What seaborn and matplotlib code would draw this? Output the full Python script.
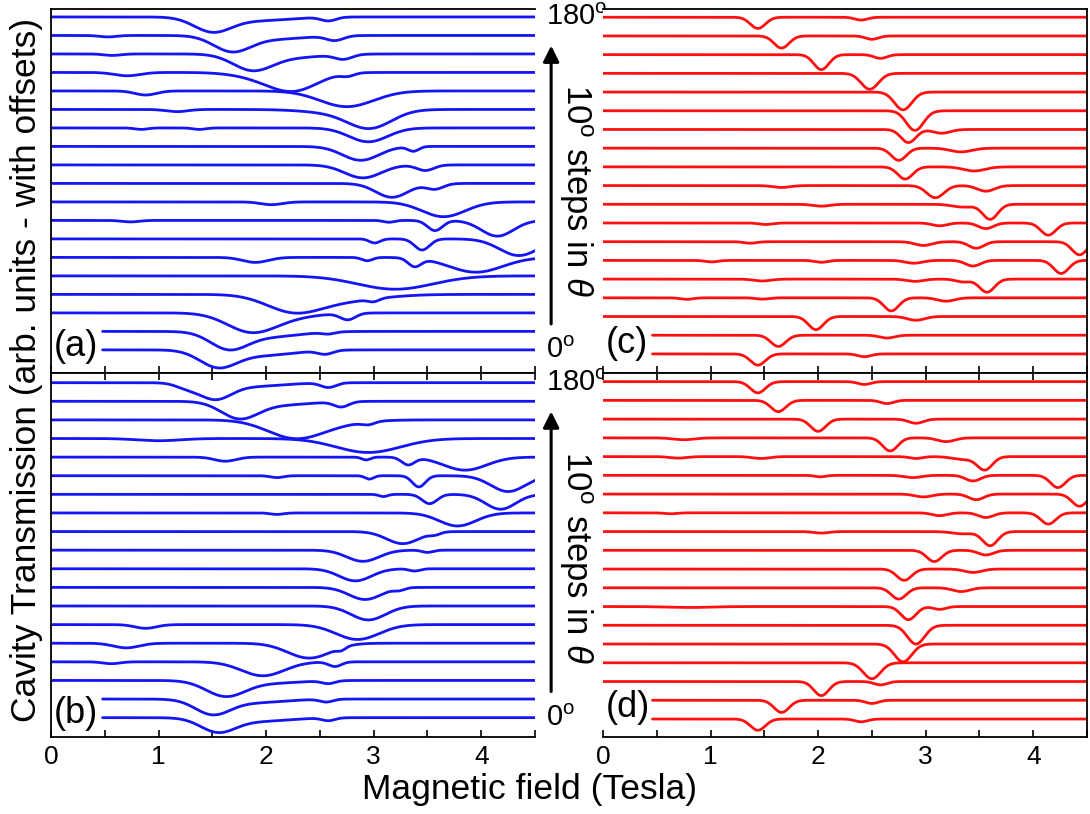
import numpy as np
import pandas as pd
import matplotlib
matplotlib.use('Agg')
import matplotlib.pyplot as plt
import seaborn as sns

# angle of each trace, 0 deg at the bottom, 180 deg at the top
angles = list(range(0, 190, 10))

# each trace: list of (field centre T, depth in trace spacings, width T)
dips_a = [
    [(1.55, -0.85, 0.17), (1.95, -0.30, 0.30), (2.55, -0.20, 0.07)],
    [(1.65, -0.85, 0.17), (2.00, -0.30, 0.30), (2.58, -0.10, 0.06)],
    [(1.85, -0.85, 0.22), (2.10, -0.30, 0.30), (2.76, -0.35, 0.07)],
    [(2.25, -0.85, 0.25), (2.70, -0.35, 0.35), (3.00, -0.15, 0.05)],
    [(3.20, -0.72, 0.35)],
    [(1.90, -0.27, 0.12), (2.94, -0.18, 0.05), (3.38, -0.45, 0.06), (3.95, -0.80, 0.25)],
    [(3.01, -0.22, 0.05), (3.45, -0.60, 0.07), (4.35, -0.90, 0.18)],
    [(0.74, -0.08, 0.08), (3.14, -0.10, 0.05), (3.57, -0.55, 0.07), (4.15, -0.85, 0.15)],
    [(2.05, -0.15, 0.10), (3.65, -0.80, 0.20)],
    [(3.17, -0.75, 0.15), (3.57, -0.30, 0.08)],
    [(2.90, -0.70, 0.17), (3.48, -0.30, 0.08)],
    [(2.88, -0.75, 0.17), (3.37, -0.25, 0.05)],
    [(0.84, -0.08, 0.06), (1.38, -0.08, 0.06), (2.95, -0.75, 0.18)],
    [(1.17, -0.12, 0.10), (2.70, -0.20, 0.30), (2.97, -0.90, 0.20)],
    [(0.88, -0.22, 0.10), (2.75, -0.85, 0.25)],
    [(0.71, -0.18, 0.12), (2.00, -0.30, 0.25), (2.27, -0.85, 0.22), (2.76, -0.15, 0.06)],
    [(0.57, -0.08, 0.08), (1.87, -0.80, 0.18), (2.20, -0.20, 0.30), (2.72, -0.25, 0.08)],
    [(0.53, -0.08, 0.08), (1.68, -0.80, 0.17), (2.05, -0.20, 0.30), (2.64, -0.25, 0.08)],
    [(1.50, -0.75, 0.17), (1.90, -0.20, 0.30), (2.58, -0.20, 0.07)],
]

dips_b = [
    [(1.55, -0.70, 0.16), (1.90, -0.20, 0.30), (2.58, -0.15, 0.06)],
    [(1.50, -0.75, 0.16), (1.85, -0.20, 0.30), (2.56, -0.15, 0.06)],
    [(1.62, -0.80, 0.18), (2.00, -0.15, 0.30), (2.58, -0.15, 0.06)],
    [(0.56, -0.10, 0.08), (1.97, -0.75, 0.20), (2.64, -0.25, 0.06)],
    [(0.70, -0.25, 0.12), (2.40, -0.80, 0.20), (2.70, -0.15, 0.04)],
    [(0.88, -0.20, 0.10), (2.85, -0.80, 0.20)],
    [(2.95, -0.75, 0.16)],
    [(2.92, -0.65, 0.15), (3.24, -0.12, 0.05)],
    [(2.83, -0.65, 0.15), (3.38, -0.12, 0.05)],
    [(2.90, -0.60, 0.15), (3.50, -0.12, 0.05)],
    [(3.27, -0.65, 0.15), (3.57, -0.12, 0.05)],
    [(2.10, -0.08, 0.06), (3.78, -0.70, 0.17)],
    [(3.09, -0.12, 0.04), (3.52, -0.50, 0.07), (4.18, -0.80, 0.14)],
    [(2.10, -0.10, 0.06), (2.96, -0.18, 0.04), (3.42, -0.60, 0.06), (4.25, -0.85, 0.16)],
    [(1.62, -0.22, 0.10), (2.93, -0.15, 0.04), (3.32, -0.40, 0.06), (3.85, -0.70, 0.20)],
    [(1.00, -0.12, 0.20), (2.95, -0.75, 0.30)],
    [(2.25, -0.85, 0.25), (2.55, -0.25, 0.30), (2.95, -0.15, 0.06)],
    [(1.75, -0.85, 0.17), (2.10, -0.20, 0.30), (2.70, -0.28, 0.07)],
    [(1.25, -0.20, 0.10), (1.52, -0.80, 0.15), (1.85, -0.20, 0.30), (2.58, -0.25, 0.07)],
]

dips_c = [
    [(1.44, -0.60, 0.07), (2.43, -0.15, 0.06)],
    [(1.63, -0.60, 0.07), (2.64, -0.15, 0.07)],
    [(1.98, -0.70, 0.07), (2.91, -0.20, 0.08)],
    [(0.78, -0.08, 0.06), (1.48, -0.07, 0.06), (2.68, -0.70, 0.07), (3.19, -0.18, 0.08)],
    [(1.48, -0.10, 0.08), (2.90, -0.12, 0.08), (3.35, -0.15, 0.07), (3.57, -0.70, 0.07)],
    [(1.01, -0.08, 0.06), (2.03, -0.10, 0.06), (2.89, -0.15, 0.08), (3.44, -0.30, 0.07), (4.26, -0.70, 0.07)],
    [(1.37, -0.08, 0.06), (2.98, -0.20, 0.08), (3.47, -0.35, 0.07), (4.43, -0.70, 0.07)],
    [(1.51, -0.08, 0.06), (3.13, -0.15, 0.07), (3.56, -0.30, 0.07), (4.14, -0.65, 0.07)],
    [(2.03, -0.10, 0.08), (3.35, -0.15, 0.10), (3.60, -0.80, 0.07)],
    [(1.66, -0.10, 0.08), (3.09, -0.65, 0.08), (3.56, -0.30, 0.08)],
    [(2.81, -0.65, 0.07), (3.45, -0.22, 0.10)],
    [(2.75, -0.65, 0.07), (3.33, -0.20, 0.10)],
    [(2.84, -0.70, 0.07), (3.15, -0.20, 0.08)],
    [(2.90, -1.05, 0.08)],
    [(2.79, -0.95, 0.08)],
    [(2.48, -0.85, 0.08)],
    [(2.03, -0.80, 0.07), (2.58, -0.20, 0.06)],
    [(1.66, -0.65, 0.07), (2.50, -0.18, 0.06)],
    [(1.44, -0.60, 0.07), (2.40, -0.15, 0.06)],
]

dips_d = [
    [(1.44, -0.60, 0.07), (2.40, -0.15, 0.06)],
    [(1.66, -0.65, 0.07), (2.50, -0.17, 0.06)],
    [(2.03, -0.75, 0.07), (2.58, -0.18, 0.06)],
    [(2.50, -0.85, 0.08)],
    [(2.79, -0.95, 0.08)],
    [(2.91, -1.00, 0.08)],
    [(0.80, -0.05, 0.20), (2.84, -0.70, 0.07), (3.13, -0.15, 0.06)],
    [(2.75, -0.60, 0.07), (3.33, -0.20, 0.08)],
    [(2.80, -0.60, 0.07), (3.44, -0.18, 0.08)],
    [(3.08, -0.60, 0.07), (3.56, -0.25, 0.07)],
    [(2.03, -0.08, 0.07), (3.35, -0.12, 0.10), (3.60, -0.75, 0.07)],
    [(0.63, -0.05, 0.06), (3.13, -0.15, 0.07), (3.56, -0.25, 0.07), (4.14, -0.60, 0.07)],
    [(2.98, -0.15, 0.08), (3.47, -0.30, 0.07), (4.43, -0.65, 0.07)],
    [(2.02, -0.08, 0.05), (2.88, -0.12, 0.08), (3.44, -0.30, 0.07), (4.23, -0.65, 0.07)],
    [(0.70, -0.08, 0.08), (1.47, -0.10, 0.08), (2.91, -0.10, 0.06), (3.35, -0.15, 0.10), (3.55, -0.70, 0.07)],
    [(0.75, -0.10, 0.10), (2.67, -0.70, 0.07), (3.19, -0.20, 0.08)],
    [(2.00, -0.65, 0.07), (2.91, -0.22, 0.07)],
    [(1.63, -0.60, 0.07), (2.64, -0.17, 0.06)],
    [(1.44, -0.60, 0.07), (2.43, -0.15, 0.06)],
]

panel_labels = ['(a)', '(b)', '(c)', '(d)']
panel_colors = ['#1414f5', '#1414f5', '#ff1010', '#ff1010']
first_start = [0.48, 0.48, 0.46, 0.46]   # the two lowest traces start later (room for the label)


def build_frame(dips, start_low):
    rows = []
    for k, ang in enumerate(angles):
        start = start_low if k < 2 else 0.0
        x = np.linspace(start, 4.5, 900)
        y = np.full_like(x, float(k))
        for c, d, w in dips[k]:
            y = y + d * np.exp(-0.5 * ((x - c) / w) ** 2)
        rows.append(pd.DataFrame({'field': x, 'signal': y, 'angle': ang}))
    return pd.concat(rows, ignore_index=True)


sns.set_theme(style='ticks')
plt.rcParams['font.family'] = ['Liberation Sans', 'DejaVu Sans']
plt.rcParams['mathtext.fontset'] = 'custom'
plt.rcParams['mathtext.rm'] = 'Liberation Sans'
plt.rcParams['mathtext.it'] = 'Liberation Sans:italic'
plt.rcParams['text.color'] = 'black'
plt.rcParams['xtick.color'] = 'black'
plt.rcParams['xtick.labelcolor'] = 'black'

fig = plt.figure(figsize=(10.9, 8.14), dpi=100)
W, H = 1090.0, 814.0
boxes = [(51, 9, 535, 373), (51, 373, 535, 737), (603, 9, 1087, 373), (603, 373, 1087, 737)]
ylims = [(-1.25, 18.43), (-1.04, 18.52), (-1.02, 18.44), (-0.96, 18.46)]
label_y = [0.2, 0.2, 0.55, 0.64]

axes = []
for i, dips in enumerate([dips_a, dips_b, dips_c, dips_d]):
    x0, y0, x1, y1 = boxes[i]
    ax = fig.add_axes([x0 / W, 1 - y1 / H, (x1 - x0) / W, (y1 - y0) / H])
    df = build_frame(dips, first_start[i])
    sns.lineplot(data=df, x='field', y='signal', units='angle', estimator=None,
                 color=panel_colors[i], lw=2.0, sort=False, legend=False, ax=ax)
    ax.set_xlim(0, 4.5)
    ax.set_ylim(*ylims[i])
    ax.set_xlabel('')
    ax.set_ylabel('')
    ax.set_yticks([])
    ax.set_xticks([0, 1, 2, 3, 4])
    ax.set_xticks([0.5, 1.5, 2.5, 3.5, 4.5], minor=True)
    bottom_row = i in (1, 3)
    ax.tick_params(axis='x', which='both', direction='in', length=5, width=1.2,
                   top=bottom_row, bottom=True, labelbottom=bottom_row,
                   labelsize=19, pad=6, colors='black')
    for s in ax.spines.values():
        s.set_linewidth(1.3)
        s.set_color('black')
    if i < 2:
        ax.spines['right'].set_visible(False)
    else:
        ax.spines['left'].set_visible(False)
    ax.text(0.03, label_y[i], panel_labels[i], fontsize=26, va='center', ha='left', color='black')
    axes.append(ax)

# angle annotations and arrows beside the left panels
for ax, yc in [(axes[0], 8.6), (axes[1], 8.6)]:
    ax.text(4.6, 18, '180$^\\mathrm{o}$', fontsize=21, va='center', ha='left', clip_on=False)
    ax.text(4.6, 0, '0$^\\mathrm{o}$', fontsize=21, va='center', ha='left', clip_on=False)
    ax.annotate('', xy=(4.65, 16.6), xytext=(4.65, 1.25),
                arrowprops=dict(arrowstyle='-|>', lw=2.2, color='black', mutation_scale=24),
                annotation_clip=False)
    ax.text(4.88, yc, '10$^\\mathrm{o}$ steps in $\\theta$', fontsize=25, rotation=-90,
            va='center', ha='center', clip_on=False)

fig.text(0.024, 0.545, 'Cavity Transmission (arb. units - with offsets)', fontsize=25.5,
         rotation=90, va='center', ha='center')
fig.text(0.486, 0.03, 'Magnetic field (Tesla)', fontsize=25.5, va='center', ha='center')

fig.savefig('out.png', dpi=100)
